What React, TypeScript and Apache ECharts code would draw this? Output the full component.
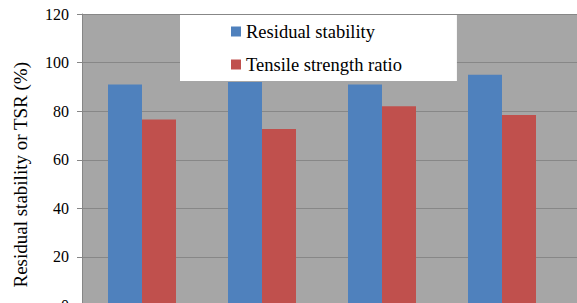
import React, { useEffect, useRef } from "react";
import * as echarts from "echarts";

const categories = ["1", "2", "3", "4", "5"];
const residualStability = [91, 92, 91, 95, null];
const tensileStrengthRatio = [76.6, 72.7, 82, 78.4, null];
const yTicks = [0, 20, 40, 60, 80, 100, 120];

export default function App() {
  const ref = useRef<HTMLDivElement>(null);
  useEffect(() => {
    if (!ref.current) return;
    const chart = echarts.init(ref.current, null, { renderer: "svg" });
    const font = "Liberation Serif, Times New Roman, serif";
    chart.setOption({
      animation: false,
      textStyle: { fontFamily: font },
      grid: {
        left: 82,
        top: 14,
        width: 600,
        height: 291.5,
        show: true,
        backgroundColor: "#A6A6A6",
        borderWidth: 0,
      },
      legend: {
        orient: "vertical",
        left: 180,
        top: 15,
        padding: [7, 55, 7, 51],
        backgroundColor: "#FFFFFF",
        itemWidth: 10,
        itemHeight: 10,
        itemGap: 14,
        icon: "rect",
        textStyle: { fontFamily: font, fontSize: 18.5, color: "#000" },
        data: ["Residual stability", "Tensile strength ratio"],
      },
      xAxis: {
        type: "category",
        data: categories,
        axisLine: { show: false },
        axisTick: { show: false },
        axisLabel: { show: false },
      },
      yAxis: {
        type: "value",
        min: yTicks[0],
        max: yTicks[yTicks.length - 1],
        interval: 20,
        name: "Residual stability or TSR (%)",
        nameLocation: "middle",
        nameGap: 52,
        nameTextStyle: {
          fontFamily: font,
          fontSize: 19,
          color: "#000",
          padding: [0, 30, 0, 0],
        },
        axisLine: { show: true, lineStyle: { color: "#868686", width: 1 } },
        axisTick: { show: true, length: 5, lineStyle: { color: "#868686" } },
        axisLabel: {
          fontFamily: font,
          fontSize: 16,
          color: "#000",
          margin: 13,
        },
        splitLine: { show: true, lineStyle: { color: "#878787", width: 1 } },
      },
      series: [
        {
          name: "Residual stability",
          type: "bar",
          data: residualStability,
          barWidth: 34,
          barGap: "0%",
          itemStyle: { color: "#4F81BD" },
        },
        {
          name: "Tensile strength ratio",
          type: "bar",
          data: tensileStrengthRatio,
          barWidth: 34,
          barGap: "0%",
          itemStyle: { color: "#C0504D" },
        },
      ],
    });
    return () => chart.dispose();
  }, []);
  return (
    <div
      style={{
        position: "absolute",
        left: 0,
        top: 0,
        width: 577,
        height: 303,
        overflow: "hidden",
        background: "#fff",
      }}
    >
      <div ref={ref} style={{ width: 700, height: 340 }} />
    </div>
  );
}
